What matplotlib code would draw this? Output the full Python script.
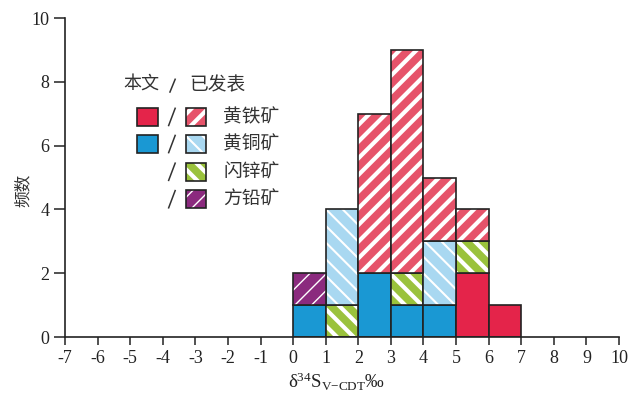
import matplotlib
matplotlib.use('Agg')
import matplotlib.pyplot as plt
from matplotlib.patches import Rectangle

plt.rcParams['font.family'] = ['Liberation Serif', 'Noto Sans CJK SC']
plt.rcParams['mathtext.fontset'] = 'custom'
plt.rcParams['mathtext.rm'] = 'Liberation Serif'
plt.rcParams['mathtext.it'] = 'Liberation Serif:italic'

# left edges of the 1 permil bins
bins = [0, 1, 2, 3, 4, 5, 6]

# this study (solid)
cpy_this = [1, 0, 2, 1, 1, 0, 0]
py_this = [0, 0, 0, 0, 0, 2, 1]
# published data (hatched)
sp_pub = [0, 1, 0, 1, 0, 1, 0]
cpy_pub = [0, 3, 0, 0, 2, 0, 0]
gn_pub = [1, 0, 0, 0, 0, 0, 0]
py_pub = [0, 0, 5, 7, 2, 1, 0]

minerals = ['黄铁矿', '黄铜矿', '闪锌矿', '方铅矿']
xticks = list(range(-7, 11))

RED = '#e4244a'
BLUE = '#1a98d3'
RED_H = '#e6536a'
BLUE_H = '#a9d8f1'
GREEN_H = '#9ac23c'
PURPLE_H = '#8b2a7e'

H_PY = ('//', 3.0)
H_CPY = ('\\\\', 1.5)
H_SP = ('\\\\', 3.0)
H_GN = ('//', 1.0)

# (values, face, hatch, hatch width)
layers = [
    (cpy_this, BLUE, None, 0),
    (py_this, RED, None, 0),
    (sp_pub, GREEN_H) + H_SP,
    (cpy_pub, BLUE_H) + H_CPY,
    (gn_pub, PURPLE_H) + H_GN,
    (py_pub, RED_H) + H_PY,
]


def hatched_rect(ax, x, y, w, h, face, hatch, hlw, **kw):
    if hatch:
        plt.rcParams['hatch.linewidth'] = hlw
        p = Rectangle((x, y), w, h, facecolor=face, edgecolor='white',
                      hatch=hatch, linewidth=0, **kw)
        if hasattr(p, 'set_hatch_linewidth'):
            p.set_hatch_linewidth(hlw)
    else:
        p = Rectangle((x, y), w, h, facecolor=face, linewidth=0, **kw)
    ax.add_patch(p)
    ax.add_patch(Rectangle((x, y), w, h, fill=False, edgecolor='#222222',
                           linewidth=1.2, **kw))


fig = plt.figure(figsize=(6.4, 3.97), dpi=100)
ax = fig.add_axes([0.1016, 0.1511, 0.8656, 0.8035])

bottom = [0] * len(bins)
for vals, face, hatch, hlw in layers:
    for i, x in enumerate(bins):
        if vals[i] > 0:
            hatched_rect(ax, x, bottom[i], 1, vals[i], face, hatch, hlw)
            bottom[i] += vals[i]

ax.set_xlim(-7, 10)
ax.set_ylim(0, 10)
ax.set_xticks(xticks)
ax.set_xticklabels([str(t) for t in xticks])
ax.set_yticks([0, 2, 4, 6, 8, 10])
for s in ['top', 'right']:
    ax.spines[s].set_visible(False)
for s in ['left', 'bottom']:
    ax.spines[s].set_linewidth(1.2)
    ax.spines[s].set_color('#222222')
ax.tick_params(axis='both', direction='out', length=6, width=1.1,
               colors='#222222', labelsize=13, pad=3)
ax.tick_params(axis='y', length=8)

ax.set_ylabel('频数', fontsize=12, family=['Noto Sans CJK SC'], color='#333333')
ax.yaxis.set_label_coords(-0.06, 0.46)
ax.set_xlabel(r'δ$^{34}$S$_{\mathrm{V{-}CDT}}$‰', fontsize=13.5, color='#222222')
ax.xaxis.set_label_coords(0.49, -0.105)

# legend drawn in data units
cjk = ['Noto Sans CJK SC']
ax.text(-5.22, 7.9, '本文', fontsize=13, family=cjk, va='center', ha='left',
        color='#333333')
ax.plot([-3.78, -3.62], [7.68, 8.08], color='#333333', lw=1.1, clip_on=False)
ax.text(-3.2, 7.9, '已发表', fontsize=13.5, family=cjk, va='center', ha='left',
        color='#333333')

row_y = [6.9, 6.05, 5.18, 4.32]
faces_this = [RED, BLUE, None, None]
faces_pub = [(RED_H,) + H_PY, (BLUE_H,) + H_CPY,
             (GREEN_H,) + H_SP, (PURPLE_H,) + H_GN]
sw, sh = 0.63, 0.56
for k, name in enumerate(minerals):
    y = row_y[k]
    if faces_this[k]:
        hatched_rect(ax, -4.79, y - sh / 2, sw, sh, faces_this[k], None, 0,
                     clip_on=False)
    ax.plot([-3.82, -3.62], [y - 0.27, y + 0.27], color='#333333', lw=1.1,
            clip_on=False)
    face, hatch, hlw = faces_pub[k]
    hatched_rect(ax, -3.29, y - sh / 2, sw, sh, face, hatch, hlw, clip_on=False)
    ax.text(-2.15, y, name, fontsize=13.5, family=cjk, va='center', ha='left',
            color='#333333')

fig.savefig('out.png', dpi=100)
